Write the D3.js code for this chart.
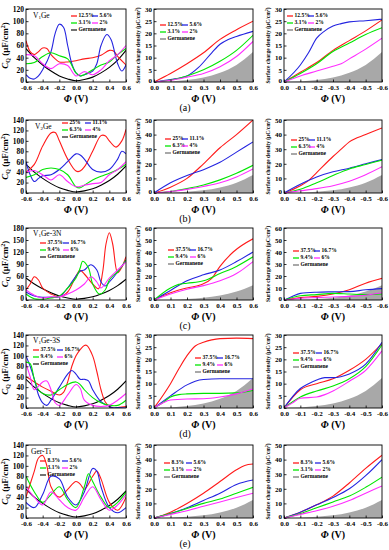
<!DOCTYPE html>
<html><head><meta charset="utf-8">
<script src="https://cdn.jsdelivr.net/npm/d3@7/dist/d3.min.js"></script>
<style>body{margin:0;background:#fff}svg{display:block}text{font-family:"Liberation Serif","Times New Roman",serif}</style>
</head><body><svg id="c" width="389" height="550"></svg>
<script>
// ---------- DATA ----------
const rowTitles = ["V1Ge", "V2Ge", "V1Ge-3N", "V1Ge-3S", "Ger-Ti"];
const rowLetters = ["(a)", "(b)", "(c)", "(d)", "(e)"];
const labelsA = ["12.5%", "5.6%", "3.1%", "2%"];
const labelsB = ["25%", "11.1%", "6.3%", "4%"];
const labelsC = ["37.5%", "16.7%", "9.4%", "6%"];
const labelsD = ["37.5%", "16.7%", "9.4%", "6%"];
const labelsE = ["8.3%", "5.6%", "3.1%", "2%"];
const germLabel = "Germanene";

const xTicksCQ = [-0.6, -0.4, -0.2, 0, 0.2, 0.4, 0.6];
const xTicksPos = [0, 0.1, 0.2, 0.3, 0.4, 0.5, 0.6];
const xTicksNeg = [0, -0.1, -0.2, -0.3, -0.4, -0.5, -0.6];
const yMaxCQ = [120, 140, 180, 140, 140];
const yStepCQ = [20, 20, 30, 20, 20];
const yMaxQ = [30, 50, 60, 30, 50];
const yStepQ = [5, 10, 10, 5, 10];

// Germanene (shared)
const germCQ = [[-0.6,55],[-0.5,40],[-0.4,28],[-0.3,18],[-0.2,10],[-0.1,5],[0,2],[0.1,4],[0.2,8],[0.3,15],[0.4,24],[0.5,36],[0.6,52]];
const germQpos = [[0,0],[0.1,0.2],[0.2,0.8],[0.3,1.8],[0.4,3.8],[0.5,7],[0.6,12.3]];
const germQneg = [[0,0],[-0.1,0.2],[-0.2,0.8],[-0.3,1.8],[-0.4,3.8],[-0.5,7],[-0.6,12.3]];

// Row (a) V1Ge
const aCQred = [[-0.6,68],[-0.55,50],[-0.5,45],[-0.45,50],[-0.4,56],[-0.35,55],[-0.3,45],[-0.25,38],[-0.2,33],[-0.1,33],[0,35],[0.1,38],[0.2,40],[0.3,44],[0.4,52],[0.45,51],[0.5,42],[0.6,28]];
const aCQblue = [[-0.6,12],[-0.55,6],[-0.5,5],[-0.45,10],[-0.4,20],[-0.3,50],[-0.25,80],[-0.2,95],[-0.15,90],[-0.1,60],[-0.05,30],[0,15],[0.05,10],[0.1,12],[0.2,18],[0.25,30],[0.3,60],[0.37,78],[0.42,70],[0.5,30],[0.55,18],[0.6,28]];
const aCQgreen = [[-0.6,30],[-0.5,32],[-0.4,42],[-0.3,48],[-0.2,43],[-0.1,38],[0,15],[0.05,10],[0.1,12],[0.2,20],[0.3,28],[0.4,33],[0.5,45],[0.6,55]];
const aCQmag = [[-0.6,45],[-0.5,43],[-0.4,30],[-0.3,22],[-0.2,30],[-0.1,27],[0,10],[0.1,17],[0.2,12],[0.3,20],[0.4,35],[0.5,45],[0.6,60]];
const aQPred = [[0,0],[0.1,3.5],[0.2,7.5],[0.3,12],[0.4,17.5],[0.5,21.5],[0.6,25]];
const aQPblue = [[0,0],[0.1,1],[0.2,2.5],[0.27,6],[0.35,12],[0.4,15.5],[0.45,17.5],[0.5,18.7],[0.6,20.8]];
const aQPgreen = [[0,0],[0.1,0.8],[0.2,2.5],[0.3,5],[0.4,8.5],[0.5,13],[0.6,19.2]];
const aQPmag = [[0,0],[0.1,0.7],[0.2,2],[0.3,3.5],[0.4,6.3],[0.5,10.5],[0.6,16.7]];
const aQNred = [[0,0],[-0.1,4],[-0.2,8],[-0.3,13],[-0.4,17],[-0.5,21],[-0.6,25.5]];
const aQNblue = [[0,0],[-0.1,7],[-0.15,12],[-0.2,18],[-0.25,21],[-0.3,23],[-0.35,24],[-0.4,24.7],[-0.5,25.2],[-0.6,25.8]];
const aQNgreen = [[0,0],[-0.1,3.5],[-0.2,7.5],[-0.3,12.5],[-0.4,16],[-0.5,19.5],[-0.6,22.3]];
const aQNmag = [[0,0],[-0.1,2.5],[-0.2,4.5],[-0.3,6.5],[-0.35,7.5],[-0.4,9.5],[-0.5,13.5],[-0.6,18]];

// Row (b) V2Ge
const bCQred = [[-0.6,40],[-0.5,55],[-0.4,90],[-0.3,115],[-0.25,116],[-0.2,100],[-0.1,65],[0,42],[0.05,42],[0.1,50],[0.2,80],[0.3,110],[0.35,110],[0.4,100],[0.48,88],[0.55,100],[0.6,122]];
const bCQblue = [[-0.6,60],[-0.55,35],[-0.5,22],[-0.45,28],[-0.4,33],[-0.3,35],[-0.2,45],[-0.1,60],[0,75],[0.05,73],[0.1,65],[0.2,45],[0.3,40],[0.4,45],[0.5,65],[0.55,80],[0.6,75]];
const bCQgreen = [[-0.6,30],[-0.5,35],[-0.4,45],[-0.3,48],[-0.2,45],[-0.1,35],[0,12],[0.05,10],[0.1,15],[0.2,25],[0.3,32],[0.4,38],[0.5,45],[0.6,55]];
const bCQmag = [[-0.6,40],[-0.5,43],[-0.4,35],[-0.3,25],[-0.2,35],[-0.1,22],[0,12],[0.1,15],[0.2,18],[0.3,20],[0.4,35],[0.5,45],[0.6,60]];
const bQPred = [[0,0],[0.1,4],[0.2,10],[0.3,20],[0.4,31],[0.5,40],[0.6,50]];
const bQPblue = [[0,0],[0.1,7],[0.2,12],[0.3,16],[0.4,21],[0.5,28],[0.6,35]];
const bQPgreen = [[0,0],[0.1,1],[0.2,3],[0.3,5.5],[0.4,9],[0.5,13.5],[0.6,19]];
const bQPmag = [[0,0],[0.1,1],[0.2,2.5],[0.3,4.5],[0.4,7],[0.5,11],[0.6,16.5]];
const bQNred = [[0,0],[-0.1,5],[-0.15,8.5],[-0.2,14],[-0.3,25],[-0.35,30],[-0.4,35],[-0.5,40],[-0.6,44.5]];
const bQNblue = [[0,0],[-0.1,6],[-0.2,11],[-0.3,14.5],[-0.4,17],[-0.5,20],[-0.6,23]];
const bQNgreen = [[0,0],[-0.1,2.5],[-0.2,7],[-0.3,12],[-0.4,16.5],[-0.5,19.5],[-0.6,22.5]];
const bQNmag = [[0,0],[-0.1,1.5],[-0.2,3],[-0.3,5],[-0.4,8],[-0.5,12.5],[-0.6,18]];

// Row (c) V1Ge-3N
const cCQred = [[-0.6,25],[-0.55,40],[-0.5,58],[-0.45,50],[-0.4,30],[-0.3,15],[-0.2,8],[-0.1,20],[0,60],[0.05,74],[0.1,65],[0.2,40],[0.27,28],[0.32,70],[0.36,140],[0.4,168],[0.44,140],[0.5,68],[0.55,82],[0.6,108]];
const cCQblue = [[-0.6,20],[-0.5,10],[-0.4,7],[-0.3,7],[-0.2,8],[-0.1,30],[0,60],[0.05,72],[0.1,75],[0.15,85],[0.18,88],[0.25,75],[0.3,45],[0.35,35],[0.4,45],[0.5,70],[0.6,100]];
const cCQgreen = [[-0.6,15],[-0.5,3],[-0.4,2],[-0.3,5],[-0.2,10],[-0.1,30],[0,55],[0.05,80],[0.08,97],[0.15,80],[0.2,40],[0.28,15],[0.35,25],[0.4,50],[0.45,62],[0.5,70],[0.6,100]];
const cCQmag = [[-0.6,25],[-0.5,12],[-0.4,5],[-0.3,8],[-0.2,8],[-0.1,15],[0,25],[0.1,40],[0.18,58],[0.25,45],[0.3,30],[0.4,55],[0.5,75],[0.6,95]];
const cQPred = [[0,0],[0.1,6],[0.2,10],[0.28,12.5],[0.35,18],[0.4,28],[0.48,40],[0.6,51]];
const cQPblue = [[0,0],[0.1,8],[0.2,16],[0.3,21],[0.4,25],[0.5,32],[0.6,40]];
const cQPgreen = [[0,0],[0.1,10],[0.15,13],[0.2,14],[0.3,16],[0.4,22],[0.5,28],[0.6,36]];
const cQPmag = [[0,0],[0.1,5],[0.2,9],[0.3,12],[0.4,16],[0.5,22],[0.6,32]];
const cQNred = [[0,0],[-0.1,2],[-0.2,3],[-0.3,5],[-0.4,8.5],[-0.5,14],[-0.6,18]];
const cQNblue = [[0,0],[-0.05,3],[-0.1,5.5],[-0.2,6.5],[-0.3,6.8],[-0.4,7],[-0.5,8.5],[-0.6,9.5]];
const cQNgreen = [[0,0],[-0.1,3.5],[-0.2,4.5],[-0.3,5.5],[-0.4,5],[-0.5,4.5],[-0.6,5]];
const cQNmag = [[0,0],[-0.1,1.5],[-0.2,2],[-0.3,2.5],[-0.4,3],[-0.5,4],[-0.6,6]];

// Row (d) V1Ge-3S
const dCQred = [[-0.6,60],[-0.5,50],[-0.4,40],[-0.3,32],[-0.2,25],[-0.15,30],[-0.1,50],[-0.05,80],[0,100],[0.05,112],[0.1,120],[0.13,120],[0.2,100],[0.25,70],[0.3,35],[0.35,12],[0.4,3],[0.45,0],[0.5,1],[0.6,3]];
const dCQblue = [[-0.6,100],[-0.55,80],[-0.5,55],[-0.45,25],[-0.4,10],[-0.35,5],[-0.3,15],[-0.2,40],[-0.1,65],[-0.05,72],[0,65],[0.05,55],[0.1,55],[0.15,52],[0.2,35],[0.3,12],[0.4,3],[0.45,0],[0.5,1],[0.6,0]];
const dCQgreen = [[-0.6,88],[-0.55,85],[-0.5,55],[-0.45,35],[-0.4,28],[-0.3,25],[-0.2,35],[-0.1,45],[0,50],[0.05,45],[0.1,35],[0.2,20],[0.3,10],[0.4,5],[0.5,5],[0.6,15]];
const dCQmag = [[-0.6,85],[-0.55,60],[-0.5,35],[-0.4,50],[-0.35,52],[-0.3,35],[-0.25,10],[-0.2,5],[-0.1,25],[0,45],[0.05,38],[0.1,15],[0.2,5],[0.3,3],[0.4,5],[0.5,15],[0.6,28]];
const dQPred = [[0,0],[0.1,10],[0.15,16],[0.2,21.5],[0.25,25.5],[0.3,27],[0.35,28],[0.4,28.5],[0.5,28.7],[0.6,28.5]];
const dQPblue = [[0,0],[0.1,5],[0.2,9.5],[0.25,11],[0.3,11.7],[0.4,12],[0.5,12],[0.6,12]];
const dQPgreen = [[0,0],[0.05,2],[0.1,4.5],[0.15,5.5],[0.2,5.8],[0.3,6],[0.4,6],[0.5,6.2],[0.6,7.2]];
const dQPmag = [[0,0],[0.05,2],[0.1,3.3],[0.2,3.7],[0.3,3.8],[0.4,4.5],[0.5,5.8],[0.6,7.8]];
const dQNred = [[0,0],[-0.1,7.5],[-0.2,10],[-0.3,12],[-0.4,15.5],[-0.5,20],[-0.6,26.5]];
const dQNblue = [[0,0],[-0.1,8],[-0.15,10],[-0.2,11.5],[-0.25,12.5],[-0.3,12.5],[-0.4,14],[-0.5,18],[-0.6,27]];
const dQNgreen = [[0,0],[-0.1,4.5],[-0.2,7],[-0.3,9],[-0.4,12],[-0.5,17],[-0.6,26]];
const dQNmag = [[0,0],[-0.05,2],[-0.1,4],[-0.2,4.5],[-0.25,5.5],[-0.3,7],[-0.4,11],[-0.5,15.5],[-0.6,23.5]];

// Row (e) Ger-Ti
const eCQred = [[-0.6,40],[-0.5,90],[-0.45,115],[-0.4,120],[-0.35,100],[-0.3,60],[-0.2,40],[-0.1,55],[0,70],[0.05,65],[0.1,55],[0.2,80],[0.25,90],[0.3,75],[0.4,30],[0.5,15],[0.6,40]];
const eCQblue = [[-0.6,30],[-0.5,20],[-0.4,45],[-0.3,80],[-0.2,75],[-0.1,40],[0,25],[0.1,50],[0.2,95],[0.25,90],[0.3,60],[0.4,20],[0.5,10],[0.6,20]];
const eCQgreen = [[-0.6,80],[-0.5,50],[-0.4,30],[-0.3,45],[-0.2,60],[-0.1,35],[0,20],[0.1,60],[0.15,85],[0.2,70],[0.3,40],[0.4,20],[0.5,30],[0.6,50]];
const eCQmag = [[-0.6,60],[-0.5,40],[-0.4,25],[-0.3,50],[-0.2,35],[-0.1,20],[0,15],[0.1,40],[0.2,60],[0.3,35],[0.4,15],[0.5,25],[0.6,45]];
const eQPred = [[0,0],[0.1,4],[0.2,10],[0.3,17],[0.4,25],[0.5,33],[0.55,36],[0.6,37]];
const eQPblue = [[0,0],[0.1,3],[0.2,7],[0.3,12],[0.4,17],[0.5,23],[0.6,26]];
const eQPgreen = [[0,0],[0.1,3],[0.2,6.5],[0.3,10],[0.4,13],[0.5,17],[0.6,21]];
const eQPmag = [[0,0],[0.1,2.5],[0.2,5],[0.3,8],[0.4,11],[0.5,14],[0.6,17]];
const eQNred = [[0,0],[-0.1,4],[-0.2,9],[-0.3,15],[-0.4,24],[-0.5,34],[-0.6,43]];
const eQNblue = [[0,0],[-0.1,4],[-0.2,9],[-0.3,14],[-0.4,20],[-0.5,29],[-0.6,40]];
const eQNgreen = [[0,0],[-0.1,3],[-0.2,7],[-0.3,11],[-0.4,15],[-0.5,21],[-0.6,28]];
const eQNmag = [[0,0],[-0.1,2.5],[-0.2,5],[-0.3,8],[-0.4,12],[-0.5,17],[-0.6,22]];

// ---------- LAYOUT ----------
const colors = ["#ff1a1a", "#2424e0", "#00e600", "#ff2cff"];
const cols = [{x0:26, x1:126}, {x0:154, x1:253}, {x0:284, x1:382}];
const rows = [{y0:9, y1:82}, {y0:120, y1:193}, {y0:228, y1:300}, {y0:335, y1:408}, {y0:445, y1:518}];
// legend placement: [relX, relY, dx] per row per col
const legPos = [
  [[45,7,21],[6,16,22],[3,7,21]],
  [[36,3,23],[11,19,17],[7,20,18]],
  [[14,15,23],[14,22,22],[9,23,21]],
  [[7,15,24],[41,23,22],[9,18,23]],
  [[14,16,22],[10,18,22],[9,18,22]]
];
const titlePos = [[7,7],[9,7],[7,6],[7,6],[5,7]];

const rowData = [
  {labels: labelsA, cq:[aCQred,aCQblue,aCQgreen,aCQmag], qp:[aQPred,aQPblue,aQPgreen,aQPmag], qn:[aQNred,aQNblue,aQNgreen,aQNmag]},
  {labels: labelsB, cq:[bCQred,bCQblue,bCQgreen,bCQmag], qp:[bQPred,bQPblue,bQPgreen,bQPmag], qn:[bQNred,bQNblue,bQNgreen,bQNmag]},
  {labels: labelsC, cq:[cCQred,cCQblue,cCQgreen,cCQmag], qp:[cQPred,cQPblue,cQPgreen,cQPmag], qn:[cQNred,cQNblue,cQNgreen,cQNmag]},
  {labels: labelsD, cq:[dCQred,dCQblue,dCQgreen,dCQmag], qp:[dQPred,dQPblue,dQPgreen,dQPmag], qn:[dQNred,dQNblue,dQNgreen,dQNmag]},
  {labels: labelsE, cq:[eCQred,eCQblue,eCQgreen,eCQmag], qp:[eQPred,eQPblue,eQPgreen,eQPmag], qn:[eQNred,eQNblue,eQNgreen,eQNmag]}
];

const svg = d3.select("#c");
const defs = svg.append("defs");
let clipId = 0;

function title(g, x, y, name) {
  const t = g.append("text").attr("x", x).attr("y", y).attr("dominant-baseline", "middle")
    .attr("font-size", 7.5).attr("fill", "#000");
  const m = name.match(/^V(\d)(.*)$/);
  if (m) {
    t.append("tspan").text("V");
    t.append("tspan").attr("font-size", 5).attr("dy", 1.5).text(m[1]);
    t.append("tspan").attr("dy", -1.5).text(m[2]);
  } else t.text(name);
}

function panel(ri, ci) {
  const c = cols[ci], r = rows[ri], d = rowData[ri];
  const W = c.x1 - c.x0, H = r.y1 - r.y0;
  const g = svg.append("g").attr("transform", `translate(${c.x0},${r.y0})`);
  let xDom, xT, yMax, yStep, series, germ;
  if (ci === 0) { xDom = [-0.6, 0.6]; xT = xTicksCQ; yMax = yMaxCQ[ri]; yStep = yStepCQ[ri]; series = d.cq; germ = germCQ; }
  else if (ci === 1) { xDom = [0, 0.6]; xT = xTicksPos; yMax = yMaxQ[ri]; yStep = yStepQ[ri]; series = d.qp; germ = germQpos; }
  else { xDom = [0, -0.6]; xT = xTicksNeg; yMax = yMaxQ[ri]; yStep = yStepQ[ri]; series = d.qn; germ = germQneg; }
  const x = d3.scaleLinear().domain(xDom).range([0, W]);
  const y = d3.scaleLinear().domain([0, yMax]).range([H, 0]);
  const id = "clip" + (clipId++);
  defs.append("clipPath").attr("id", id).append("rect").attr("width", W).attr("height", H);
  const plot = g.append("g").attr("clip-path", `url(#${id})`);
  const line = d3.line().x(p => x(p[0])).y(p => y(p[1])).curve(d3.curveMonotoneX);
  const line2 = d3.line().x(p => x(p[0])).y(p => y(p[1])).curve(ci === 0 ? d3.curveCatmullRom.alpha(0.5) : d3.curveMonotoneX);
  if (ci === 0) {
    plot.append("path").attr("d", line(germ)).attr("fill", "none").attr("stroke", "#000").attr("stroke-width", 1.1);
  } else {
    const area = d3.area().x(p => x(p[0])).y0(y(0)).y1(p => y(p[1])).curve(d3.curveMonotoneX);
    plot.append("path").attr("d", area(germ)).attr("fill", "#a8a8a8");
  }
  series.forEach((s, i) => {
    plot.append("path").attr("d", line2(s)).attr("fill", "none").attr("stroke", colors[i]).attr("stroke-width", 1.1);
  });
  // frame
  g.append("rect").attr("width", W).attr("height", H).attr("fill", "none").attr("stroke", "#000").attr("stroke-width", 0.9);
  // axes
  const yt = d3.range(0, yMax + 1e-9, yStep);
  const ax = g.append("g").attr("transform", `translate(0,${H})`)
    .call(d3.axisBottom(x).tickValues(xT).tickSize(-2.5).tickPadding(3.5).tickFormat(v => v.toFixed(1)));
  const ay = g.append("g").call(d3.axisLeft(y).tickValues(yt).tickSize(-2.5).tickPadding(2).tickFormat(d3.format("d")));
  [ax, ay].forEach(a => {
    a.select(".domain").remove();
    a.selectAll("line").attr("stroke", "#000").attr("stroke-width", 0.8);
  });
  ax.selectAll("text").attr("font-family", "Liberation Serif").attr("font-weight", "bold")
    .attr("font-size", 7).attr("fill", "#000");
  ay.selectAll("text").attr("font-family", "Liberation Serif").attr("font-weight", "bold")
    .attr("font-size", ci === 0 ? 7.5 : 7).attr("fill", "#000");
  ay.selectAll(".tick").filter(v => v === 0).select("text").attr("dy", "0.05em");
  // x title
  const xt = g.append("text").attr("x", W / 2).attr("y", H + 20).attr("text-anchor", "middle")
    .attr("font-weight", "bold").attr("font-size", 10).attr("fill", "#000");
  xt.append("tspan").attr("font-style", "italic").text("Φ");
  xt.append("tspan").text(" (V)");
  // y title
  if (ci === 0) {
    const t = g.append("text").attr("transform", `translate(${-18},${H / 2}) rotate(-90)`)
      .attr("text-anchor", "middle").attr("font-weight", "bold").attr("font-size", 9).attr("fill", "#000");
    t.append("tspan").attr("font-style", "italic").text("C");
    t.append("tspan").attr("font-size", 6).attr("dy", 2).text("Q");
    t.append("tspan").attr("dy", -2).text(" (μF/cm");
    t.append("tspan").attr("font-size", 6).attr("dy", -3).text("2");
    t.append("tspan").attr("dy", 3).text(")");
  } else {
    const t = g.append("text").attr("transform", `translate(${-14},${H / 2}) rotate(-90)`)
      .attr("text-anchor", "middle").attr("font-weight", "bold").attr("font-size", 5.5).attr("fill", "#000");
    t.append("tspan").text("Surface charge density (μC/cm");
    t.append("tspan").attr("font-size", 4).attr("dy", -2).text("2");
    t.append("tspan").attr("dy", 2).text(")");
  }
  // title
  if (ci === 0) title(g, titlePos[ri][0], titlePos[ri][1], rowTitles[ri]);
  // legend
  const [lx, ly, dx] = legPos[ri][ci];
  const rs = 7, ll = 6;
  const items = d.labels.map((lab, i) => ({lab, color: colors[i], cx: lx + (i % 2) * dx, cy: ly + Math.floor(i / 2) * rs}));
  items.push({lab: germLabel, color: ci === 0 ? "#000" : "#a8a8a8", cx: lx, cy: ly + 2 * rs, w: ci === 0 ? 1.1 : 2});
  items.forEach(it => {
    g.append("line").attr("x1", it.cx).attr("x2", it.cx + ll).attr("y1", it.cy).attr("y2", it.cy)
      .attr("stroke", it.color).attr("stroke-width", it.w || 1.3);
    g.append("text").attr("x", it.cx + ll + 1.5).attr("y", it.cy).attr("dominant-baseline", "middle")
      .attr("font-size", 5.5).attr("font-weight", "bold").attr("fill", "#000").text(it.lab);
  });
}

for (let ri = 0; ri < 5; ri++) {
  for (let ci = 0; ci < 3; ci++) panel(ri, ci);
  svg.append("text").attr("x", 185).attr("y", rows[ri].y1 + 27).attr("text-anchor", "middle")
    .attr("dominant-baseline", "middle").attr("font-size", 10).attr("fill", "#000").text(rowLetters[ri]);
}
</script></body></html>
